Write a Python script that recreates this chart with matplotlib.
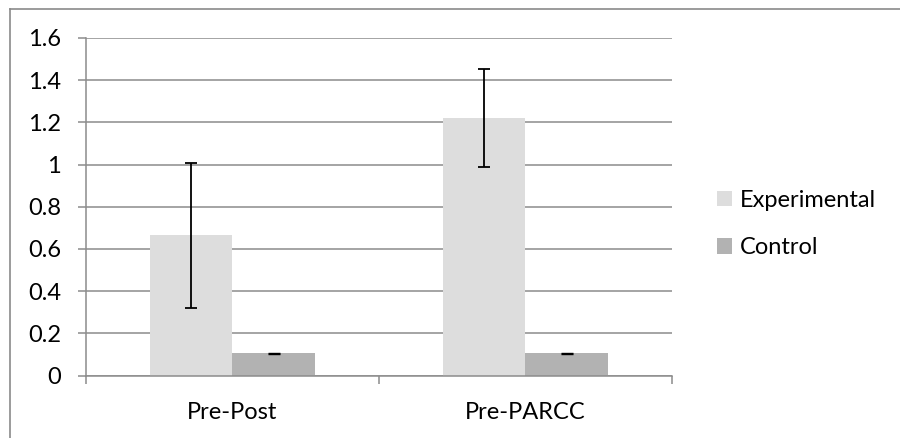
import matplotlib
matplotlib.use("Agg")
import matplotlib.pyplot as plt
from matplotlib.lines import Line2D
from matplotlib.patches import Patch
import numpy as np

categories = ["Pre-Post", "Pre-PARCC"]
experimental = [0.664, 1.22]
experimental_err = [0.344, 0.231]
control = [0.106, 0.106]
control_err = [0.003, 0.003]
yticks = [0, 0.2, 0.4, 0.6, 0.8, 1.0, 1.2, 1.4, 1.6]
ytick_labels = ["0", "0.2", "0.4", "0.6", "0.8", "1", "1.2", "1.4", "1.6"]

plt.rcParams["font.family"] = ["Lato", "DejaVu Sans"]

W, H = 900, 438
FS = 17
fig = plt.figure(figsize=(W / 100, H / 100), dpi=100)
ax = fig.add_axes([86 / W, (H - 375.5) / H, (672 - 86) / W, (375.5 - 38) / H])

grid_c = "#8c8c8c"
exp_c = "#dddddd"
ctl_c = "#b2b2b2"

x = np.arange(len(categories))
bw = 0.283
ax.bar(x - bw / 2, experimental, bw, color=exp_c, zorder=2)
ax.bar(x + bw / 2, control, bw, color=ctl_c, zorder=2)
ax.errorbar(x - bw / 2, experimental, yerr=experimental_err, fmt="none",
            ecolor="black", elinewidth=1.3, capsize=4.3, capthick=1.3, zorder=3)
ax.errorbar(x + bw / 2, control, yerr=control_err, fmt="none",
            ecolor="black", elinewidth=1.0, capsize=4.3, capthick=1.0, zorder=3)

ax.set_xlim(-0.5, 1.5)
ax.set_ylim(0, 1.6)
ax.set_yticks(yticks)
ax.set_yticklabels(ytick_labels)
ax.yaxis.grid(True, color=grid_c, linewidth=1.1, zorder=0)
ax.set_axisbelow(True)

ax.set_xticks([-0.5, 0.5, 1.5])
ax.set_xticklabels([])
ax.set_xticks(x, minor=True)
ax.set_xticklabels(categories, minor=True)
ax.tick_params(axis="x", which="minor", length=0, pad=19, labelsize=FS)
ax.tick_params(axis="x", which="major", length=6, width=1.1, color=grid_c, direction="out")
ax.tick_params(axis="y", length=6, width=1.1, color=grid_c, pad=12, labelsize=FS)

for s in ["top", "right"]:
    ax.spines[s].set_visible(False)
for s in ["left", "bottom"]:
    ax.spines[s].set_color(grid_c)
    ax.spines[s].set_linewidth(1.1)

handles = [Patch(facecolor=exp_c, edgecolor="none", label="Experimental"),
           Patch(facecolor=ctl_c, edgecolor="none", label="Control")]
fig.legend(handles=handles, loc="center left", bbox_to_anchor=(696 / W, (H - 224) / H),
           frameon=False, fontsize=FS, handlelength=0.64, handleheight=0.64,
           handletextpad=0.3, labelspacing=1.12, borderpad=0.4)

# chart frame (top and left edges)
fig.add_artist(Line2D([10 / W, 1.0], [1 - 9 / H, 1 - 9 / H], color="#8a8a8a", linewidth=1.2,
                      transform=fig.transFigure))
fig.add_artist(Line2D([10 / W, 10 / W], [0, 1 - 9 / H], color="#8a8a8a", linewidth=1.2,
                      transform=fig.transFigure))

fig.savefig("out.png", dpi=100)
